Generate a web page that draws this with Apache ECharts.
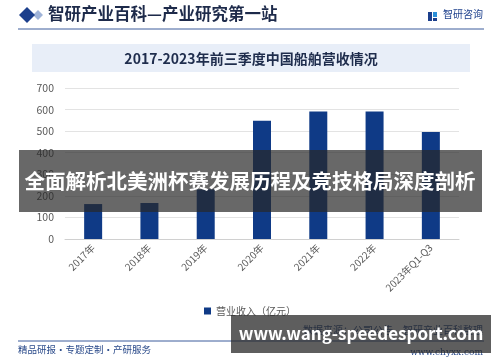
<!DOCTYPE html>
<html><head><meta charset="utf-8">
<script src="https://cdn.jsdelivr.net/npm/echarts@6/dist/echarts.min.js"></script>
<style>html,body{margin:0;padding:0;background:#fff}#c{width:500px;height:362px}</style>
</head><body><div id="c"></div>
<script>
const categories = ['2017年','2018年','2019年','2020年','2021年','2022年','2023年Q1-Q3'];
const revenue = [162, 167, 230, 548, 591, 591, 496];
const yTicks = [0,100,200,300,400,500,600,700];
const seriesName = '营业收入（亿元）';
const chartTitle = '2017-2023年前三季度中国船舶营收情况';
const headerText = '智研产业百科—产业研究第一站';
const bannerText = '全面解析北美洲杯赛发展历程及竞技格局深度剖析';
const urlText = 'www.wang-speedesport.com';
const footerLeft = '精品研报・专题定制・产研服务';
const footerSource = '数据来源：公司公告，智研产业百科整理';
const footerRight = 'www.chyxx.com';
const logoText = '智研咨询';

const FONT = '"Noto Sans CJK SC", "Noto Sans", sans-serif';
const chart = echarts.init(document.getElementById('c'), null, {renderer:'canvas'});
chart.setOption({
  animation:false,
  textStyle:{fontFamily:FONT},
  grid:{left:65, right:41, top:88, bottom:123, containLabel:false},
  xAxis:{type:'category', data:categories,
    axisLine:{lineStyle:{color:'#d0d0d0'}}, axisTick:{show:false},
    axisLabel:{rotate:45, fontSize:10, color:'#595959', margin:7, interval:0, fontFamily:FONT}},
  yAxis:{type:'value', min:yTicks[0], max:yTicks[yTicks.length-1], interval:100,
    axisLine:{show:false}, axisTick:{show:false},
    axisLabel:{fontSize:10.5, color:'#595959', margin:11, fontFamily:FONT},
    splitLine:{lineStyle:{color:'#e3e3e3'}}},
  legend:{top:301, left:'center', itemWidth:7, itemHeight:7, icon:'rect',
    itemGap:3, textStyle:{fontSize:10, color:'#595959', fontFamily:FONT}, data:[seriesName]},
  series:[{type:'bar', name:seriesName, data:revenue, barWidth:18,
    itemStyle:{color:'#0f3a86'}}],
  graphic:[
    // header
    {type:'polygon', shape:{points:[[19,15],[27,7],[35,15],[27,23]]}, style:{fill:'#1c3f8c'}, z:50},
    {type:'polygon', shape:{points:[[33,15],[38,10],[43,15],[38,20]]}, style:{fill:'#9fb3d8'}, z:49},
    {type:'text', left:48, top:5, style:{text:headerText, font:'bold 16.5px '+FONT, fill:'#1d2a4a'}, z:50},
    {type:'rect', shape:{x:428, y:12, width:4, height:9}, style:{fill:'#1c3f8c'}, z:50},
    {type:'rect', shape:{x:433, y:12, width:4, height:5}, style:{fill:'#2a8fd8'}, z:50},
    {type:'rect', shape:{x:433, y:18, width:4, height:3}, style:{fill:'#1c3f8c'}, z:50},
    {type:'text', left:443, top:9, style:{text:logoText, font:'10px '+FONT, fill:'#1c3f8c'}, z:50},
    {type:'line', shape:{x1:18, y1:29, x2:484, y2:29}, style:{stroke:'#3d5c9c', lineWidth:1}, z:50},
    // title box
    {type:'rect', shape:{x:32, y:44, width:438, height:28}, style:{fill:'#e8eef8'}, z:0},
    {type:'text', x:251, y:59, style:{text:chartTitle, font:'bold 14px '+FONT, fill:'#1f2d4d', textAlign:'center', textVerticalAlign:'middle'}, z:50},
    // footer
    {type:'line', shape:{x1:18, y1:341, x2:484, y2:341}, style:{stroke:'#3d5c9c', lineWidth:1}, z:50},
    {type:'text', left:18, top:345, style:{text:footerLeft, font:'9.5px '+FONT, fill:'#2a4a8a'}, z:50},
    {type:'text', x:483, y:330, style:{text:footerSource, font:'10px '+FONT, fill:'#2a4a8a', textAlign:'right', textVerticalAlign:'middle'}, z:50},
    {type:'text', x:483, y:353, style:{text:footerRight, font:'9px "DejaVu Serif", serif', fill:'#2a4a8a', textAlign:'right', textVerticalAlign:'middle'}, z:50},
    // overlays
    {type:'rect', shape:{x:19, y:150, width:463, height:62}, style:{fill:'rgba(40,40,40,0.7)'}, z:100},
    {type:'text', x:250, y:181, style:{text:bannerText, font:'bold 20.5px '+FONT, fill:'#ffffff', textAlign:'center', textVerticalAlign:'middle'}, z:101},
    {type:'rect', shape:{x:231, y:315, width:260, height:38}, style:{fill:'rgba(40,40,40,0.75)'}, z:100},
    {type:'text', x:361, y:334, style:{text:urlText, font:'bold 17px '+FONT, fill:'#ffffff', textAlign:'center', textVerticalAlign:'middle'}, z:101}
  ]
});
</script></body></html>
